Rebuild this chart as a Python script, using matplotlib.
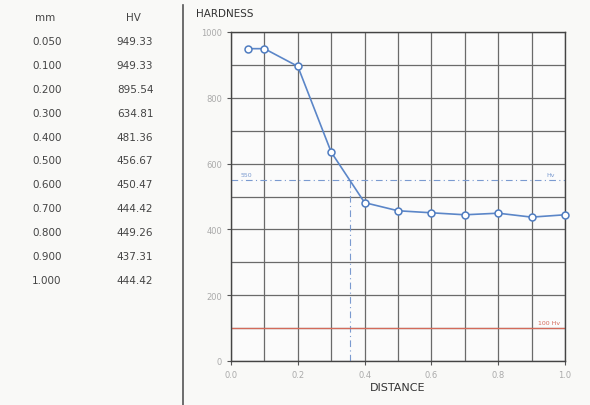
import matplotlib
matplotlib.use("Agg")
import matplotlib.pyplot as plt
from matplotlib.ticker import MultipleLocator

distance = [0.05, 0.10, 0.20, 0.30, 0.40, 0.50, 0.60, 0.70, 0.80, 0.90, 1.00]
hardness = [949.33, 949.33, 895.54, 634.81, 481.36, 456.67, 450.47, 444.42, 449.26, 437.31, 444.42]
mm_labels = ["0.050", "0.100", "0.200", "0.300", "0.400", "0.500", "0.600", "0.700", "0.800", "0.900", "1.000"]
hv_labels = ["949.33", "949.33", "895.54", "634.81", "481.36", "456.67", "450.47", "444.42", "449.26", "437.31", "444.42"]
limit_hv = 550
limit_x = 0.355
core_hv = 100
x_ticks = [0.0, 0.2, 0.4, 0.6, 0.8, 1.0]
y_ticks = [0, 200, 400, 600, 800, 1000]

fig = plt.figure(figsize=(5.9, 4.06), dpi=100)
fig.patch.set_facecolor("#f9f9f7")

# Table
fig.text(45 / 590, 1 - 18 / 406, "mm", ha="center", va="center", fontsize=7.5, color="#444444")
fig.text(133 / 590, 1 - 18 / 406, "HV", ha="center", va="center", fontsize=7.5, color="#444444")
for i, (m, h) in enumerate(zip(mm_labels, hv_labels)):
    y = 1 - (42 + i * 23.9) / 406
    fig.text(47 / 590, y, m, ha="center", va="center", fontsize=7.5, color="#444444")
    fig.text(135 / 590, y, h, ha="center", va="center", fontsize=7.5, color="#444444")

# Separator line
fig.add_artist(plt.Line2D([183 / 590, 183 / 590], [0, 1 - 6 / 406], color="#555555", lw=1.2))

ax = fig.add_axes([231 / 590, 1 - 362 / 406, 334 / 590, 329 / 406])
ax.set_facecolor("#fbfbfb")
ax.set_xlim(0, 1)
ax.set_ylim(0, 1000)
ax.xaxis.set_major_locator(MultipleLocator(0.2))
ax.xaxis.set_minor_locator(MultipleLocator(0.1))
ax.yaxis.set_major_locator(MultipleLocator(200))
ax.yaxis.set_minor_locator(MultipleLocator(100))
ax.set_xticks(x_ticks)
ax.set_xticklabels(["0.0", "0.2", "0.4", "0.6", "0.8", "1.0"])
ax.set_yticks(y_ticks)
ax.set_yticklabels([str(v) for v in y_ticks])
ax.grid(which="both", color="#6a6a6a", lw=0.9)
ax.set_axisbelow(True)
ax.tick_params(which="major", labelsize=6, colors="#555555", labelcolor="#aaaaaa", length=3, width=0.8)
ax.tick_params(which="minor", length=0)
for s in ax.spines.values():
    s.set_color("#444444")
    s.set_linewidth(1.0)

ax.axhline(limit_hv, color="#7a9ad0", lw=0.8, ls=(0, (6, 3, 1, 3)))
ax.plot([limit_x, limit_x], [0, limit_hv], color="#7a9ad0", lw=0.8, ls=(0, (6, 3, 1, 3)))
ax.text(0.03, limit_hv + 8, "550", fontsize=4.5, color="#7a9ad0", va="bottom")
ax.text(0.97, limit_hv + 8, "Hv", fontsize=4.5, color="#7a9ad0", va="bottom", ha="right")
ax.axhline(core_hv, color="#d46a5a", lw=0.9)
ax.text(0.985, core_hv + 8, "100 Hv", fontsize=4.5, color="#d46a5a", va="bottom", ha="right")

ax.plot(distance, hardness, color="#5b86c8", lw=1.2, marker="o", ms=5,
        mfc="white", mec="#4f7cc0", mew=1.1, clip_on=False, zorder=5)

fig.text(196 / 590, 1 - 14 / 406, "HARDNESS", ha="left", va="center", fontsize=7.5, color="#333333")
fig.text(398 / 590, 1 - 388 / 406, "DISTANCE", ha="center", va="center", fontsize=8, color="#333333")

fig.savefig("out.png", dpi=100, facecolor=fig.get_facecolor())
